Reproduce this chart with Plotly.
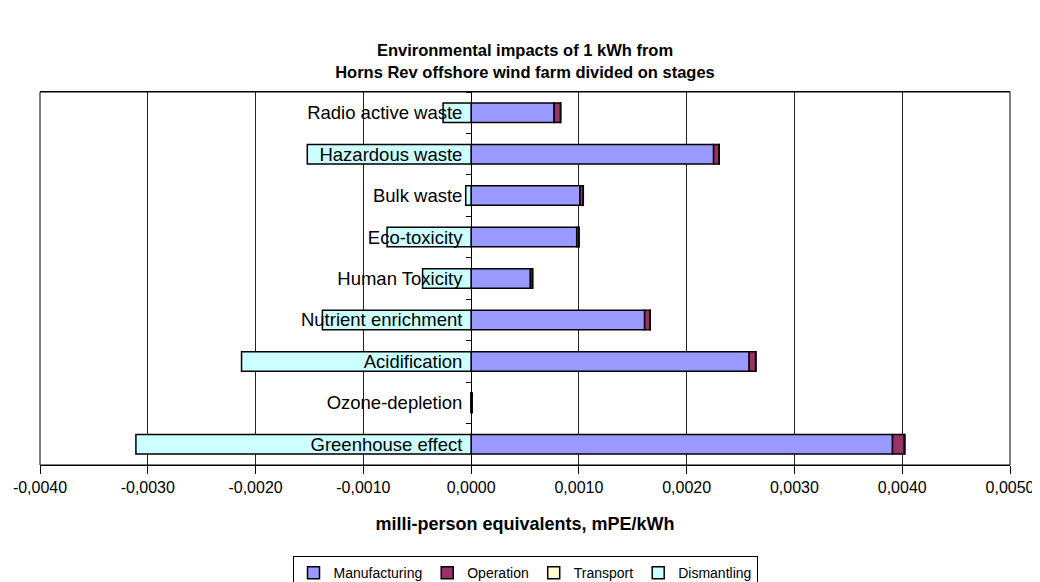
import plotly.graph_objects as go

categories = ["Greenhouse effect", "Ozone-depletion", "Acidification", "Nutrient enrichment",
              "Human Toxicity", "Eco-toxicity", "Bulk waste", "Hazardous waste", "Radio active waste"]
manufacturing = [0.00391, 0.000005, 0.00258, 0.00161, 0.00055, 0.00098, 0.00101, 0.00225, 0.00077]
operation = [0.00011, 0.000003, 0.00006, 0.00005, 0.00002, 0.00002, 0.00003, 0.00005, 0.00006]
transport = [0.000005, 0.000001, 0.000003, 0.000002, 0.000001, 0.000001, 0.000001, 0.000002, 0.000001]
dismantling = [-0.00311, -0.000002, -0.00213, -0.00138, -0.00045, -0.00078, -0.00005, -0.00152, -0.00026]
xticks = [-0.004, -0.003, -0.002, -0.001, 0.0, 0.001, 0.002, 0.003, 0.004, 0.005]
xticklabels = ["-0,0040", "-0,0030", "-0,0020", "-0,0010", "0,0000",
               "0,0010", "0,0020", "0,0030", "0,0040", "0,0050"]

series = [("Manufacturing", manufacturing, "#9999FF"),
          ("Operation", operation, "#993366"),
          ("Transport", transport, "#FFFFCC"),
          ("Dismantling", dismantling, "#CCFFFF")]

fig = go.Figure()
for name, vals, col in series:
    fig.add_trace(go.Bar(y=categories, x=vals, name=name, orientation="h",
                         marker=dict(color=col, line=dict(color="black", width=1.5)),
                         width=0.47))

font = "Liberation Sans, Arial, sans-serif"
fig.update_layout(
    width=1040, height=582,
    barmode="relative",
    paper_bgcolor="white", plot_bgcolor="white",
    margin=dict(l=32, r=38, t=84, b=125, autoexpand=False),
    font=dict(family=font, size=14, color="black"),
    title=dict(text="<b>Environmental impacts of 1 kWh from<br>Horns Rev offshore wind farm divided on stages</b>",
               x=0.5, xanchor="center", xref="paper", y=0.917, yanchor="top", yref="container",
               font=dict(size=16.5, family=font)),
    xaxis=dict(range=[-0.004, 0.005], tickvals=xticks, ticktext=xticklabels,
               showgrid=True, gridcolor="#222", gridwidth=1, automargin=False,
               zeroline=False, showline=True, linecolor="black", linewidth=1, mirror=True,
               ticks="outside", ticklen=8, tickcolor="black",
               tickfont=dict(size=16),
               title=dict(text="<b>milli-person equivalents, mPE/kWh</b>", standoff=22,
                          font=dict(size=18))),
    yaxis=dict(type="category", categoryorder="array", categoryarray=categories,
               anchor="free", position=4/9, showline=True, linecolor="black", linewidth=1,
               ticks="outside", tickson="boundaries", ticklen=5, tickcolor="black",
               ticklabelstandoff=5,
               tickfont=dict(size=18.5), showgrid=False, zeroline=False, automargin=False,
               layer="above traces"),
    legend=dict(orientation="h", x=0.5, xanchor="center", xref="paper",
                y=0.029, yanchor="middle", yref="container",
                bordercolor="black", borderwidth=1, font=dict(size=14),
                traceorder="normal", itemwidth=30, tracegroupgap=0),
    shapes=[dict(type="rect", xref="paper", yref="paper", x0=0, x1=1, y0=0, y1=1,
                 line=dict(color="black", width=1), layer="above")],
)

fig.write_html("out.html")
